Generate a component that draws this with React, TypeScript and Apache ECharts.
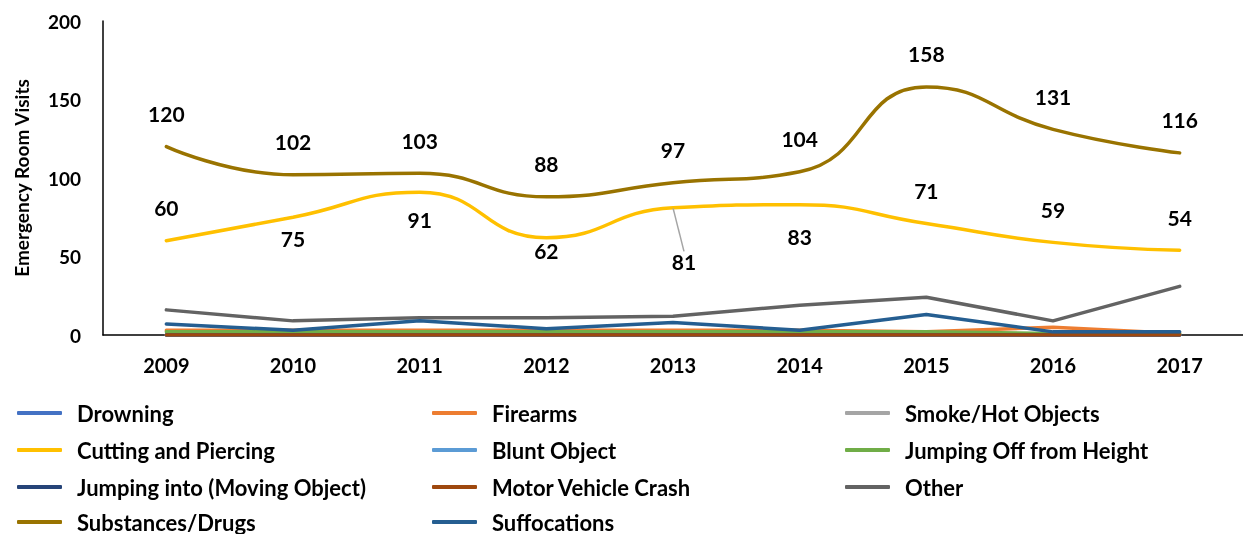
import React, { useEffect, useRef } from "react";
import * as echarts from "echarts";

const years = ["2009", "2010", "2011", "2012", "2013", "2014", "2015", "2016", "2017"];
const yTicks = { min: 0, max: 200, interval: 50 };

const drowning = [0, 0, 0, 0, 0, 0, 0, 0, 0];
const firearms = [3, 3, 3, 3, 3, 3, 2, 5, 1];
const smokeHot = [0, 0, 0, 0, 0, 0, 0, 0, 0];
const cuttingPiercing = [60, 75, 91, 62, 81, 83, 71, 59, 54];
const bluntObject = [0, 0, 0, 0, 0, 0, 0, 0, 0];
const jumpingOff = [2, 2, 2, 2, 2, 2, 2, 1, 1];
const jumpingInto = [0, 0, 0, 0, 0, 0, 0, 0, 0];
const motorVehicle = [0, 0, 0, 0, 0, 0, 0, 0, 0];
const other = [16, 9, 11, 11, 12, 19, 24, 9, 31];
const substances = [120, 102, 103, 88, 97, 104, 158, 131, 116];
const suffocations = [7, 3, 9, 4, 8, 3, 13, 2, 2];

// label placement for the Cutting and Piercing labels (style, not data)
const cuttingLabelPos = ["top", "bottom", "bottom", "bottom", "bottom", "bottom", "top", "top", "top"];
const cuttingLabelDist = [22, 10, 16, 2, 5, 21, 22, 22, 22];
const cuttingLabelOffsetX = [0, 25, 0, 0, 0, 0, 0, 0, 0];

// legend grid layout (style)
const legendCols = [17, 432, 845];
const legendRows = [413, 450, 487, 522];

const FONT = "Lato";

export default function App() {
  const ref = useRef<HTMLDivElement>(null);

  useEffect(() => {
    if (!ref.current) return;
    const chart = echarts.init(ref.current, undefined, { renderer: "svg" });

    const lineW = 3.5;
    const mk = (name: string, data: any[], color: string, extra: any = {}) => ({
      name,
      type: "line",
      data,
      color,
      symbol: "none",
      lineStyle: { width: lineW, color, cap: "round" },
      emphasis: { disabled: true },
      ...extra,
    });

    const labelStyle = {
      show: true,
      fontFamily: FONT,
      fontWeight: "bold",
      fontSize: 21,
      color: "#000",
    };

    const cuttingData = cuttingPiercing.map((v, i) => ({
      value: v,
      label: {
        position: cuttingLabelPos[i],
        distance: cuttingLabelDist[i],
        offset: [cuttingLabelOffsetX[i], 0],
      },
      labelLine: { show: i === 4 },
    }));

    const series = [
      mk("Drowning", drowning, "#4472C4"),
      mk("Firearms", firearms, "#ED7D31"),
      mk("Smoke/Hot Objects", smokeHot, "#A5A5A5"),
      mk("Cutting and Piercing", cuttingData, "#FFC000", {
        smooth: 0.5,
        symbol: "circle",
        symbolSize: 1,
        showSymbol: true,
        label: { ...labelStyle },
        labelLayout: (p: any) => (p.dataIndex === 4 ? { dx: 11, dy: 38 } : {}),
        labelLine: { show: false, lineStyle: { color: "#A5A5A5", width: 1.5 } },
      }),
      mk("Blunt Object", bluntObject, "#5B9BD5"),
      mk("Jumping Off from Height", jumpingOff, "#70AD47"),
      mk("Jumping into (Moving Object)", jumpingInto, "#264478"),
      mk("Motor Vehicle Crash", motorVehicle, "#9E480E"),
      mk("Other", other, "#636363"),
      mk("Substances/Drugs", substances, "#997300", {
        smooth: 0.5,
        symbol: "circle",
        symbolSize: 1,
        showSymbol: true,
        label: { ...labelStyle, position: "top", distance: 22 },
      }),
      mk("Suffocations", suffocations, "#255E91"),
    ];

    const legends = series.map((s, i) => ({
      show: true,
      orient: "horizontal",
      left: legendCols[i % 3],
      top: legendRows[Math.floor(i / 3)] - 11,
      padding: 0,
      icon: "roundRect",
      itemWidth: 45,
      itemHeight: 4,
      data: [s.name],
      selectedMode: false,
      textStyle: {
        fontFamily: FONT,
        fontWeight: "bold",
        fontSize: 22,
        color: "#000",
        lineHeight: 22,
        padding: [0, 0, 0, 10],
      },
    }));

    chart.setOption({
      animation: false,
      textStyle: { fontFamily: FONT },
      grid: { left: 103, right: 0, top: 21, bottom: 199, containLabel: false },
      legend: legends,
      xAxis: {
        type: "category",
        data: years,
        boundaryGap: true,
        axisLine: { show: true, lineStyle: { color: "#000", width: 1.5 } },
        axisTick: { show: false },
        axisLabel: {
          fontFamily: FONT,
          fontWeight: "bold",
          fontSize: 20,
          color: "#000",
          margin: 20,
        },
        splitLine: { show: false },
      },
      yAxis: {
        type: "value",
        min: yTicks.min,
        max: yTicks.max,
        interval: yTicks.interval,
        name: "Emergency Room Visits",
        nameLocation: "middle",
        nameGap: 72,
        nameTextStyle: { fontFamily: FONT, fontWeight: "bold", fontSize: 19, color: "#000" },
        axisLine: { show: true, lineStyle: { color: "#000", width: 1.5 } },
        axisTick: { show: false },
        axisLabel: { fontFamily: FONT, fontWeight: "bold", fontSize: 19, color: "#000", margin: 22 },
        splitLine: { show: false },
      },
      series,
    });

    return () => chart.dispose();
  }, []);

  return (
    <div
      ref={ref}
      style={{ position: "fixed", left: 0, top: 0, width: 1243, height: 534 }}
    />
  );
}
